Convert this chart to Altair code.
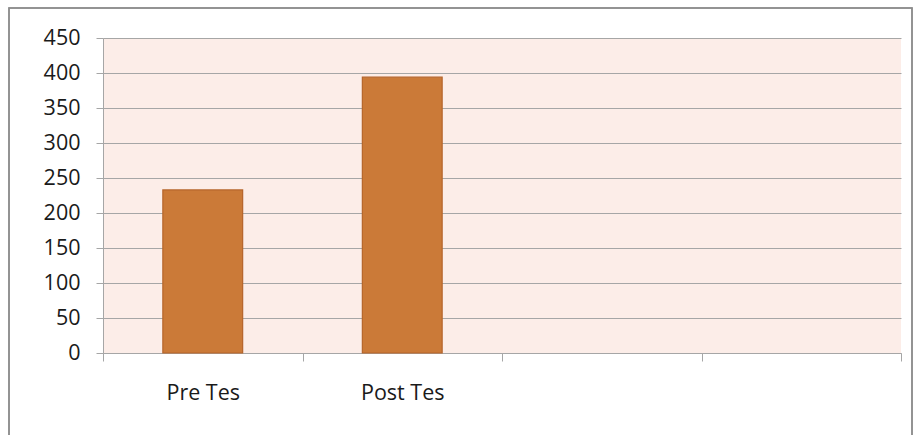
import altair as alt
import pandas as pd

categories = ["Pre Tes", "Post Tes", " ", "  "]
values = [233, 394]
labels_with_data = ["Pre Tes", "Post Tes"]
y_ticks = [0, 50, 100, 150, 200, 250, 300, 350, 400, 450]

df = pd.DataFrame({"cat": labels_with_data, "val": values})

FONT = "Open Sans"
GRAY = "#a6a6a6"

bars = alt.Chart(df).mark_bar(
    color="#cb7a38", stroke="#b5652b", strokeWidth=1.2,
    width=alt.RelativeBandSize(0.4)
).encode(
    x=alt.X("cat:N", sort=categories,
            scale=alt.Scale(domain=categories, paddingInner=0, paddingOuter=0),
            axis=alt.Axis(title=None, labelAngle=0, labelFont=FONT, labelFontSize=21.5,
                          labelColor="#1a1a1a", labelPadding=21, tickBand="extent",
                          tickSize=8, tickColor=GRAY, domainColor=GRAY, grid=False,
                          ticks=True)),
    y=alt.Y("val:Q", scale=alt.Scale(domain=[0, 450], nice=False),
            axis=alt.Axis(title=None, values=y_ticks, labelFont=FONT, labelFontSize=21.5,
                          labelColor="#1a1a1a", labelPadding=16, tickSize=7,
                          tickColor=GRAY, domainColor=GRAY, gridColor=GRAY,
                          gridWidth=1, grid=True)),
)

frame = alt.Chart(df).mark_rect(
    fill=None, stroke="#8c8c8c", strokeWidth=1.5
).encode(
    x=alt.value(-94), x2=alt.value(809), y=alt.value(-30), y2=alt.value(410)
)

chart = alt.layer(bars, frame).properties(
    width=798, height=315,
    autosize=alt.AutoSizeParams(type="none"),
    padding={"left": 103, "top": 38, "right": 17, "bottom": 82},
    background="#ffffff",
).configure_view(
    fill="#fcede8", stroke=None
)

chart.save("out.html", embed_options={"renderer": "svg", "actions": False})
